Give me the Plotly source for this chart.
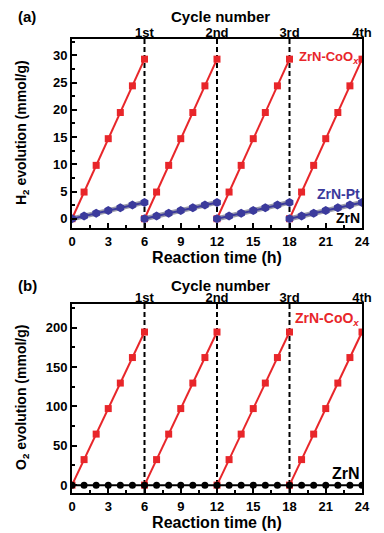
import plotly.graph_objects as go

# ---------------- data ----------------
hours = [0, 1, 2, 3, 4, 5, 6]
cycle_offsets = [0, 6, 12, 18]
cycle_labels = ["1st", "2nd", "3rd", "4th"]
cycle_tick_pos = [6, 12, 18, 24]

h2_coox = [0, 4.9, 9.8, 14.7, 19.5, 24.4, 29.3]
h2_pt = [0, 0.5, 1.0, 1.5, 2.0, 2.5, 3.0]
o2_coox = [0, 32.4, 64.8, 97.2, 129.6, 162.0, 194.4]
o2_zrn_hours = list(range(0, 25))
o2_zrn = [0] * 25

x_ticks = [0, 3, 6, 9, 12, 15, 18, 21, 24]

RED = "#e8262a"
BLUE = "#3b3a9c"
FONT = "Liberation Sans"

fig = go.Figure()

def add_cycles(vals, xa, ya, color, symbol, size, outline=False):
    for off in cycle_offsets:
        xs = [h + off for h in hours]
        if outline:
            fig.add_trace(go.Scatter(x=xs, y=vals, mode="lines", xaxis=xa, yaxis=ya,
                                     line=dict(color="#9a9aaa", width=5), showlegend=False,
                                     hoverinfo="skip"))
        fig.add_trace(go.Scatter(x=xs, y=vals, mode="lines+markers", xaxis=xa, yaxis=ya,
                                 line=dict(color=color, width=2),
                                 marker=dict(symbol=symbol, size=size, color=color),
                                 showlegend=False))

# panel a
add_cycles(h2_coox, "x", "y", RED, "square", 7)
add_cycles(h2_pt, "x", "y", BLUE, "hexagon", 9, outline=True)
# panel b
add_cycles(o2_coox, "x3", "y3", RED, "square", 7)
fig.add_trace(go.Scatter(x=o2_zrn_hours, y=o2_zrn, mode="lines+markers", xaxis="x3", yaxis="y3",
                         line=dict(color="black", width=2),
                         marker=dict(symbol="circle", size=7, color="black"), showlegend=False))
# dummy traces to activate top axes
fig.add_trace(go.Scatter(x=[0], y=[0], xaxis="x2", yaxis="y", mode="markers",
                         marker=dict(opacity=0), showlegend=False, hoverinfo="skip"))
fig.add_trace(go.Scatter(x=[0], y=[0], xaxis="x4", yaxis="y3", mode="markers",
                         marker=dict(opacity=0), showlegend=False, hoverinfo="skip"))

tickfont = dict(family=FONT, size=13, color="black", weight="bold")

def bottom_axis(anchor):
    return dict(range=[0, 24], tickvals=x_ticks, ticks="inside", ticklen=5, tickwidth=1.5,
                tickcolor="black", showline=True, linewidth=2, linecolor="black",
                mirror=False, showgrid=False, zeroline=False, anchor=anchor, automargin=False,
                tickfont=tickfont,
                title=dict(text="Reaction time (h)", standoff=0,
                           font=dict(family=FONT, size=16, color="black", weight="bold")),
                minor=dict(dtick=1.5, ticks="inside", ticklen=3, tickcolor="black"))

def top_axis(overlay, anchor):
    return dict(range=[0, 24], tickvals=cycle_tick_pos, ticktext=cycle_labels, side="top",
                overlaying=overlay, anchor=anchor, showline=True, linewidth=2, linecolor="black",
                ticks="", showgrid=False, zeroline=False, tickfont=tickfont, automargin=False,
                ticklabelstandoff=-5)

def left_axis(rng, dtick, domain, anchor):
    return dict(range=rng, dtick=dtick, tick0=0, domain=domain, anchor=anchor,
                ticks="inside", ticklen=5, tickwidth=1.5, tickcolor="black",
                showline=True, linewidth=2, linecolor="black", mirror=True,
                showgrid=False, zeroline=False, tickfont=tickfont, automargin=False,
                minor=dict(dtick=dtick / 2, ticks="inside", ticklen=3, tickcolor="black"))

# page has an 8px body margin; figure coords = page coords - 8
W, H = 376, 525
OFF = 8
PL, PR = 72, 362           # plot left/right in page px
dom_a = [1 - (228 - OFF) / H, 1 - (39 - OFF) / H]
dom_b = [1 - (493 - OFF) / H, 1 - (304 - OFF) / H]

fig.update_layout(
    width=W, height=H,
    margin=dict(l=PL - OFF, r=(OFF + W) - PR, t=0, b=0, autoexpand=False),
    paper_bgcolor="white", plot_bgcolor="white",
    xaxis=bottom_axis("y"),
    xaxis2=top_axis("x", "y"),
    yaxis=left_axis([-1.7, 33], 5, dom_a, "x"),
    xaxis3=bottom_axis("y3"),
    xaxis4=top_axis("x3", "y3"),
    yaxis3=left_axis([-10, 230], 50, dom_b, "x3"),
)

shapes = []
for xv in [6, 12, 18]:
    for xr, yr in [("x", "y domain"), ("x3", "y3 domain")]:
        shapes.append(dict(type="line", xref=xr, yref=yr, x0=xv, x1=xv, y0=0, y1=1,
                           line=dict(color="black", width=2, dash="5px,3px"), layer="below"))
fig.update_layout(shapes=shapes)

PW = float(PR - PL)
px = lambda page_x: (page_x - PL) / PW
py = lambda page_y: 1 - (page_y - OFF) / H
ann_font = lambda c, s=14: dict(family=FONT, size=s, color=c, weight="bold")
annotations = [
    dict(text="(a)", xref="paper", yref="paper", x=px(16), y=py(17), xanchor="left",
         yanchor="middle", showarrow=False, font=ann_font("black", 15)),
    dict(text="(b)", xref="paper", yref="paper", x=px(16), y=py(285), xanchor="left",
         yanchor="middle", showarrow=False, font=ann_font("black", 15)),
    dict(text="Cycle number", xref="paper", yref="paper", x=px(220), y=py(17),
         xanchor="center", yanchor="middle", showarrow=False, font=ann_font("black", 15)),
    dict(text="Cycle number", xref="paper", yref="paper", x=px(220), y=py(285),
         xanchor="center", yanchor="middle", showarrow=False, font=ann_font("black", 15)),
    dict(text="H<sub>2</sub> evolution (mmol/g)", xref="paper", yref="paper", x=px(22),
         y=py(133), textangle=-90, xanchor="center", yanchor="middle", showarrow=False,
         font=ann_font("black", 14)),
    dict(text="O<sub>2</sub> evolution (mmol/g)", xref="paper", yref="paper", x=px(22),
         y=py(398), textangle=-90, xanchor="center", yanchor="middle", showarrow=False,
         font=ann_font("black", 14)),
    dict(text="ZrN-CoO<sub><i>x</i></sub>", xref="x", yref="y", x=23.9, y=29.6, xanchor="right",
         yanchor="middle", showarrow=False, font=ann_font(RED, 13)),
    dict(text="ZrN-Pt", xref="x", yref="y", x=24, y=4.6, xanchor="right",
         yanchor="middle", showarrow=False, font=ann_font(BLUE, 14)),
    dict(text="ZrN", xref="x", yref="y", x=24, y=0.1, xanchor="right",
         yanchor="middle", showarrow=False, font=ann_font("black", 14)),
    dict(text="ZrN-CoO<sub><i>x</i></sub>", xref="x3", yref="y3", x=23.9, y=211, xanchor="right",
         yanchor="middle", showarrow=False, font=ann_font(RED, 14)),
    dict(text="ZrN", xref="x3", yref="y3", x=24, y=15, xanchor="right",
         yanchor="middle", showarrow=False, font=ann_font("black", 16)),
]
fig.update_layout(annotations=annotations)

fig.write_html("out.html")
